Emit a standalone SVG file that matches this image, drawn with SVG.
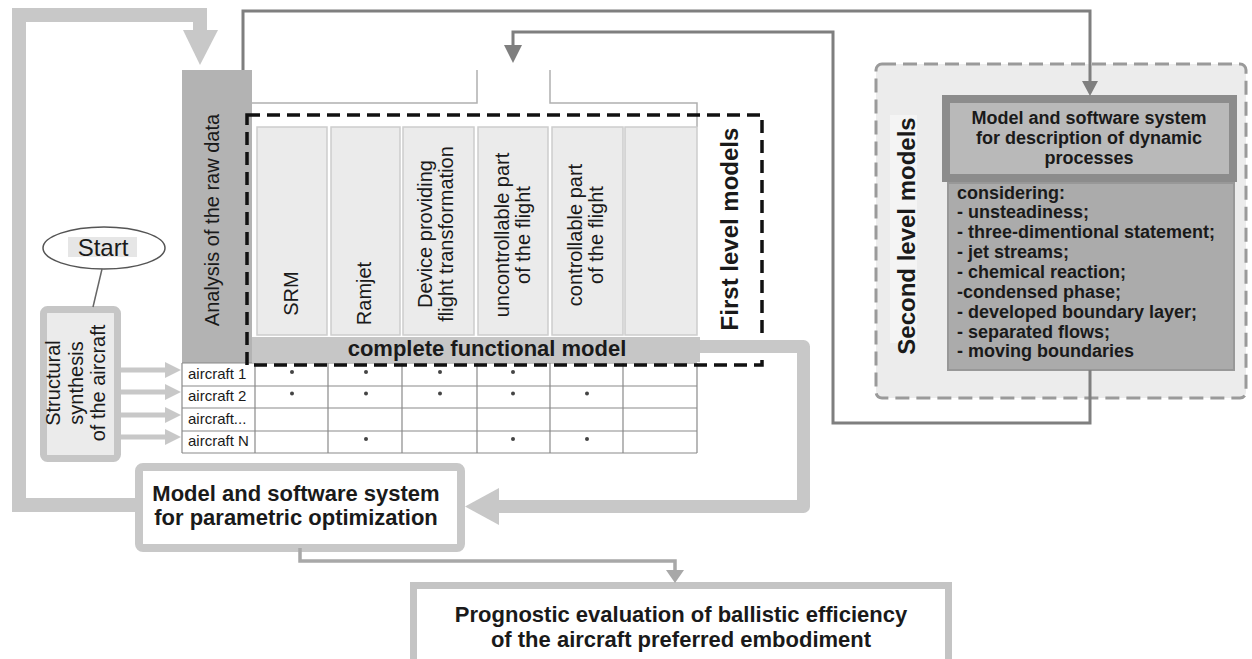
<svg xmlns="http://www.w3.org/2000/svg" width="1252" height="659" viewBox="0 0 1252 659">
<defs>
<style>
text{font-family:"Liberation Sans",Arial,sans-serif;fill:#1a1a1a}
.r20{font-size:20px}
.b24{font-size:24px;font-weight:bold}
.b22{font-size:22px;font-weight:bold}
.b18{font-size:18px;font-weight:bold}
.s15{font-size:15px}
.cell{fill:#ebebeb;stroke:#cdcdcd;stroke-width:1.5}
.grid{stroke:#8a8a8a;stroke-width:1.2;fill:none}
.thick{fill:none;stroke:#c8c8c8}
.thin{fill:none;stroke:#7f7f7f;stroke-width:3}
.dot{fill:#444}
</style>
</defs>
<rect width="1252" height="659" fill="#ffffff"/>

<g id="second-level">
<rect x="876" y="64" width="370" height="334" rx="6" fill="#ececec" stroke="#9a9a9a" stroke-width="3" stroke-dasharray="14 7"/>
<rect x="890" y="115" width="27" height="228" fill="#f4f4f4"/>
<text class="b24" transform="translate(915,236) rotate(-90)" text-anchor="middle">Second level models</text>
</g>

<g id="dynamic-model">
<rect x="946" y="99" width="287" height="79" fill="#b9b9b9" stroke="#8c8c8c" stroke-width="8"/>
<text class="b18" text-anchor="middle"><tspan x="1089" y="124">Model and software system</tspan><tspan x="1089" y="144">for description of dynamic</tspan><tspan x="1089" y="164">processes</tspan></text>
</g>

<g id="considering">
<rect x="948" y="183" width="286" height="187" fill="#ababab" stroke="#989898" stroke-width="2"/>
<text class="b18"><tspan x="957" y="199">considering:</tspan><tspan x="957" y="218">- unsteadiness;</tspan><tspan x="957" y="238">- three-dimentional statement;</tspan><tspan x="957" y="258">- jet streams;</tspan><tspan x="957" y="278">- chemical reaction;</tspan><tspan x="957" y="298">-condensed phase;</tspan><tspan x="957" y="318">- developed boundary layer;</tspan><tspan x="957" y="338">- separated flows;</tspan><tspan x="957" y="357">- moving boundaries</tspan></text>
</g>

<g id="analysis">
<rect x="182" y="70" width="70" height="293" fill="#b3b3b3"/>
<text class="r20" transform="translate(219,220) rotate(-90)" text-anchor="middle">Analysis of the raw data</text>
</g>

<g id="first-level-columns">
<path d="M252 103 L477 103 L477 70 M550 70 L550 103 L697 103 L697 127" fill="none" stroke="#b0b0b0" stroke-width="1.5"/>
<rect class="cell" x="257" y="127" width="70" height="208"/>
<rect class="cell" x="331" y="127" width="69" height="208"/>
<rect class="cell" x="403" y="127" width="71" height="208"/>
<rect class="cell" x="478" y="127" width="70" height="208"/>
<rect class="cell" x="552" y="127" width="71" height="208"/>
<rect class="cell" x="625" y="127" width="72" height="208"/>
<text class="r20" transform="translate(298,293.5) rotate(-90)" text-anchor="middle">SRM</text>
<text class="r20" transform="translate(371,293.5) rotate(-90)" text-anchor="middle">Ramjet</text>
<text class="r20" transform="translate(432,234) rotate(-90)" text-anchor="middle"><tspan x="0" y="0">Device providing</tspan><tspan x="0" y="21">flight transformation</tspan></text>
<text class="r20" transform="translate(509,235) rotate(-90)" text-anchor="middle"><tspan x="0" y="0">uncontrollable part</tspan><tspan x="0" y="21">of the flight</tspan></text>
<text class="r20" transform="translate(582,235) rotate(-90)" text-anchor="middle"><tspan x="0" y="0">controllable part</tspan><tspan x="0" y="21">of the flight</tspan></text>
</g>

<g id="complete-model">
<rect x="252" y="337" width="448" height="25" fill="#c6c6c6"/>
<text class="b22" x="487" y="356" text-anchor="middle">complete functional model</text>
</g>

<g id="aircraft-table">
<rect x="182" y="363" width="515" height="90" fill="#ffffff"/>
<path class="grid" d="M182 363 H697 M182 386 H697 M182 408 H697 M182 431 H697 M182 453 H697 M182 363 V453 M255 363 V453 M328 363 V453 M402 363 V453 M477 363 V453 M550 363 V453 M623 363 V453 M697 363 V453"/>
<text class="s15"><tspan x="188" y="379">aircraft 1</tspan><tspan x="188" y="401">aircraft 2</tspan><tspan x="188" y="424">aircraft...</tspan><tspan x="188" y="446">aircraft N</tspan></text>
<circle class="dot" cx="292" cy="372" r="2"/>
<circle class="dot" cx="366" cy="372" r="2"/>
<circle class="dot" cx="440" cy="372" r="2"/>
<circle class="dot" cx="513" cy="372" r="2"/>
<circle class="dot" cx="292" cy="393.5" r="2"/>
<circle class="dot" cx="366" cy="393.5" r="2"/>
<circle class="dot" cx="440" cy="393.5" r="2"/>
<circle class="dot" cx="513" cy="393.5" r="2"/>
<circle class="dot" cx="587" cy="393.5" r="2"/>
<circle class="dot" cx="366" cy="439" r="2"/>
<circle class="dot" cx="513" cy="439" r="2"/>
<circle class="dot" cx="587" cy="439" r="2"/>
</g>

<g id="first-level">
<rect x="247" y="115" width="515" height="250" fill="none" stroke="#111111" stroke-width="3.5" stroke-dasharray="13 7"/>
<text class="b24" transform="translate(738,229) rotate(-90)" text-anchor="middle">First level models</text>
</g>

<g id="start">
<ellipse cx="104" cy="248" rx="61" ry="21" fill="#ffffff" stroke="#555555" stroke-width="1.5"/>
<rect x="68" y="237" width="69" height="20" fill="#e6e6e6"/>
<text x="103" y="256" font-size="24" text-anchor="middle">Start</text>
</g>

<g id="structural-synthesis">
<rect x="43.5" y="309.5" width="74" height="149" rx="4" fill="#ebebeb" stroke="#c6c6c6" stroke-width="7"/>
<text class="r20" transform="translate(60,383) rotate(-90)" text-anchor="middle"><tspan x="0" y="0">Structural</tspan><tspan x="0" y="22.5">synthesis</tspan><tspan x="0" y="45">of the aircraft</tspan></text>
</g>

<g id="parametric-optimization">
<rect x="139" y="467" width="322" height="81" rx="4" fill="#ffffff" stroke="#c8c8c8" stroke-width="8"/>
<text class="b22" text-anchor="middle"><tspan x="296" y="501">Model and software system</tspan><tspan x="296" y="525">for parametric optimization</tspan></text>
</g>

<g id="prognostic">
<rect x="413.5" y="585.5" width="535" height="100" fill="#ffffff" stroke="#c4c4c4" stroke-width="7"/>
<text class="b22" text-anchor="middle"><tspan x="681" y="622">Prognostic evaluation of ballistic efficiency</tspan><tspan x="681" y="647">of the aircraft preferred embodiment</tspan></text>
</g>

<g id="connectors">
<path class="thick" d="M140 505 L19 505 L19 15 L200 15 L200 32" stroke-width="14"/>
<polygon points="183,30 218,30 200,65" fill="#c8c8c8"/>
<path class="thick" d="M700 346.5 L803.5 346.5 L803.5 506.5 L497 506.5" stroke-width="13" stroke-linejoin="round"/>
<polygon points="499,488 499,525 465,506.5" fill="#c8c8c8"/>
<path class="thin" d="M243 70 L243 11 L1090 11 L1090 82"/>
<polygon points="1082,81 1098,81 1090,96" fill="#7f7f7f"/>
<path class="thin" d="M1090 370 L1090 423 L833 423 L833 32 L513 32 L513 46"/>
<polygon points="504,45 522,45 513,63" fill="#7f7f7f"/>
<path d="M300 548 L300 561 L675 561 L675 571" fill="none" stroke="#a8a8a8" stroke-width="3.5"/>
<polygon points="666,570 684,570 675,583" fill="#a8a8a8"/>
<line x1="102" y1="269" x2="93" y2="307" stroke="#666666" stroke-width="1.5"/>
<g stroke="#c8c8c8" stroke-width="5">
<line x1="121" y1="370" x2="167" y2="370"/>
<line x1="121" y1="392" x2="167" y2="392"/>
<line x1="121" y1="415" x2="167" y2="415"/>
<line x1="121" y1="437" x2="167" y2="437"/>
</g>
<g fill="#c8c8c8">
<polygon points="165,362 165,378 181,370"/>
<polygon points="165,384 165,400 181,392"/>
<polygon points="165,407 165,423 181,415"/>
<polygon points="165,429 165,445 181,437"/>
</g>
</g>
</svg>
